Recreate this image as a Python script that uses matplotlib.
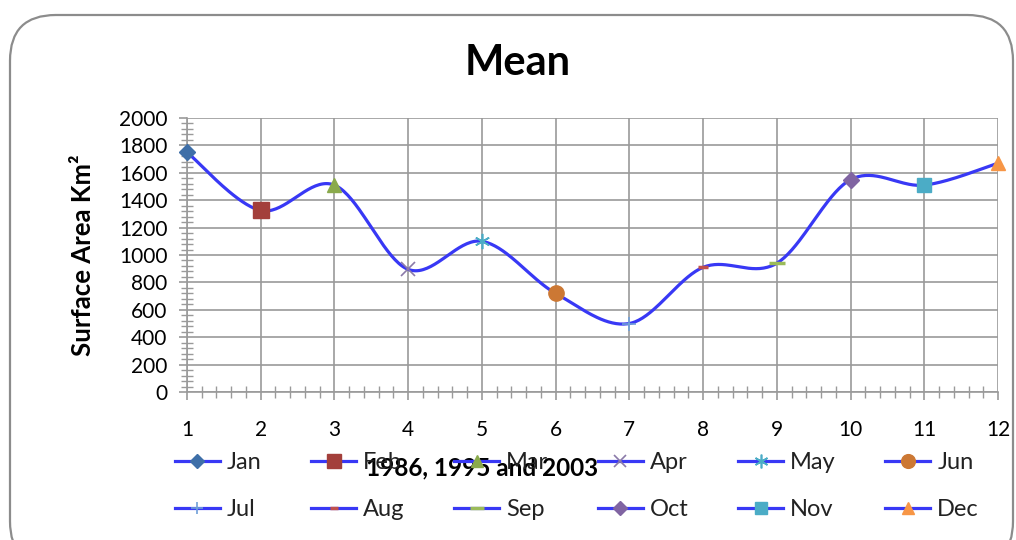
import numpy as np
import matplotlib
matplotlib.use("Agg")
from matplotlib import pyplot as plt
from matplotlib.patches import FancyBboxPatch
from matplotlib.lines import Line2D
from matplotlib.ticker import MultipleLocator

# data
months = ['Jan', 'Feb', 'Mar', 'Apr', 'May', 'Jun',
          'Jul', 'Aug', 'Sep', 'Oct', 'Nov', 'Dec']
month_num = [1, 2, 3, 4, 5, 6, 7, 8, 9, 10, 11, 12]
area = [1750, 1325, 1510, 895, 1100, 720, 500, 910, 940, 1550, 1510, 1670]

# marker style per month (excel default look)
markers = ['D', 's', '^', 'x', (6, 2, 0), 'o', '+', '_', '_', 'D', 's', '^']
mcolors = ['#3e6fa8', '#a33f3b', '#8aaa4c', '#8b7aa9', '#4bacc6', '#cc7834',
           '#6f9fd8', '#c0504d', '#9bbb59', '#8064a2', '#4bacc6', '#f79646']
msizes = [8, 11, 10, 10, 11, 11, 10, 7, 11, 8, 10, 10]
line_col = '#3838f5'
grid_col = '#9a9a9a'

plt.rcParams['font.family'] = ['Lato', 'DejaVu Sans']


def smooth(xs, ys, n=40):
    # catmull-rom, like excel "smoothed line"
    x = np.asarray(xs, float)
    y = np.asarray(ys, float)
    px = np.concatenate([[x[0]], x, [x[-1]]])
    py = np.concatenate([[y[0]], y, [y[-1]]])
    outx, outy = [], []
    t = np.linspace(0, 1, n)
    for i in range(1, len(px) - 2):
        for p, out in ((px, outx), (py, outy)):
            p0, p1, p2, p3 = p[i - 1], p[i], p[i + 1], p[i + 2]
            c = 0.5 * (2 * p1 + (-p0 + p2) * t + (2 * p0 - 5 * p1 + 4 * p2 - p3) * t ** 2
                       + (-p0 + 3 * p1 - 3 * p2 + p3) * t ** 3)
            out.extend(c)
    return np.array(outx), np.array(outy)


def mew_for(m):
    if m in ('_',):
        return 2.5
    if m in ('+', 'x') or isinstance(m, tuple):
        return 1.2
    return 1


fig = plt.figure(figsize=(10.16, 5.4), dpi=100)
border = FancyBboxPatch((10 / 1016, -0.05), 1003 / 1016, (540 - 15) / 540 + 0.05,
                        boxstyle="round,pad=0,rounding_size=0.045",
                        transform=fig.transFigure, fc='none', ec='#8c8c8c', lw=1.6,
                        mutation_aspect=1016 / 540)
fig.patches.append(border)

ax = fig.add_axes([187 / 1016, 1 - 392 / 540, 811 / 1016, 274 / 540])
ax.set_facecolor('none')

sx, sy = smooth(month_num, area)
ax.plot(sx, sy, color=line_col, lw=2.3, zorder=3)
for i in range(12):
    ax.plot(month_num[i], area[i], linestyle='none', marker=markers[i],
            color=mcolors[i], mec=mcolors[i], ms=msizes[i], mew=mew_for(markers[i]),
            zorder=4, clip_on=False)

ax.set_xlim(1, 12)
ax.set_ylim(0, 2000)
ax.xaxis.set_major_locator(MultipleLocator(1))
ax.xaxis.set_minor_locator(MultipleLocator(0.2))
ax.yaxis.set_major_locator(MultipleLocator(200))
ax.yaxis.set_minor_locator(MultipleLocator(40))
ax.grid(True, which='major', color=grid_col, lw=1.2)
ax.set_axisbelow(True)
for s in ['top', 'right']:
    ax.spines[s].set_visible(False)
for s in ['left', 'bottom']:
    ax.spines[s].set_color(grid_col)
    ax.spines[s].set_linewidth(1.2)
ax.tick_params(which='major', color=grid_col, length=6, width=1.2, labelsize=15)
ax.tick_params(axis='x', which='major', pad=14)
ax.tick_params(axis='y', which='major', pad=8)
ax.tick_params(which='minor', color=grid_col, direction='inout', length=8, width=1)

ax.set_xlabel('1986, 1995 and 2003', fontsize=17.5, fontweight='bold')
ax.xaxis.set_label_coords((482 - 187) / 811, (392 - 468) / 274)
ax.xaxis.label.set_va('center')
ax.set_ylabel('Surface Area Km²', fontsize=18.5, fontweight='bold')
ax.yaxis.set_label_coords((83 - 187) / 811, (392 - 255) / 274)
ax.yaxis.label.set_va('center')

fig.text(518 / 1016, 1 - 63 / 540, 'Mean', fontsize=30, fontweight='bold',
         ha='center', va='center')

# legend: row order Jan..Jun then Jul..Dec
handles = []
for i in range(12):
    handles.append(Line2D([], [], color=line_col, lw=2.3, marker=markers[i],
                          mfc=mcolors[i], mec=mcolors[i], ms=msizes[i] * 0.9,
                          mew=mew_for(markers[i])))
order = []
for c in range(6):
    order += [c, c + 6]
leg = fig.legend([handles[k] for k in order], [months[k] for k in order],
                 ncol=6, loc='upper left', bbox_to_anchor=(175 / 1016, 1 - 452 / 540),
                 frameon=False, fontsize=17, handlelength=1.9, handletextpad=0.3,
                 columnspacing=2.1, labelspacing=1.1, borderpad=0, borderaxespad=0)
for t in leg.get_texts():
    t.set_color('#222222')

fig.savefig('out.png', dpi=100)
